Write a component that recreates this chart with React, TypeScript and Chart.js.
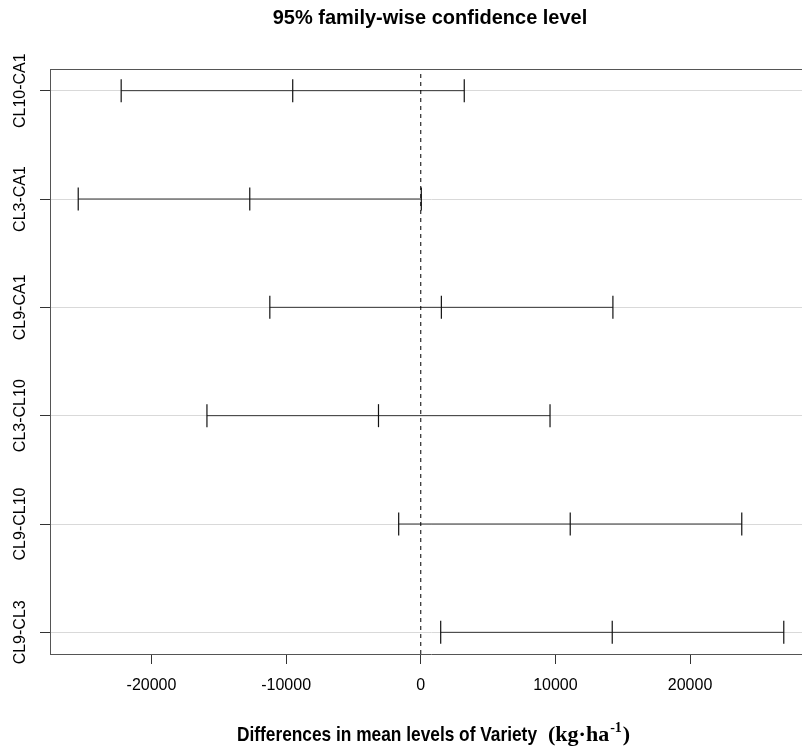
import React, { useEffect, useRef } from "react";
import { Chart, registerables } from "chart.js";

Chart.register(...registerables);

// Tukey HSD comparisons, top to bottom
const comparisons = ["CL10-CA1", "CL3-CA1", "CL9-CA1", "CL3-CL10", "CL9-CL10", "CL9-CL3"];
const diffs = [-9510, -12700, 1530, -3140, 11100, 14220];
const lowers = [-22250, -25440, -11210, -15880, -1640, 1480];
const uppers = [3230, 40, 14270, 9600, 23840, 26960];
const xTicks = [-20000, -10000, 0, 10000, 20000];

const titleText = "95% family-wise confidence level";
const xLabelText = "Differences in mean levels of Variety";

const SANS = '"Liberation Sans", Arial, sans-serif';
const SERIF = '"Liberation Serif", "Times New Roman", serif';

// row positions: first comparison at the top
const rowOf = (i: number) => comparisons.length - i;

const textPlugin = {
  id: "hsdText",
  afterDraw(chart: any) {
    const { ctx, chartArea, scales } = chart;
    const y = scales.y;
    ctx.save();
    ctx.fillStyle = "#000";

    // top frame line (plot box)
    ctx.strokeStyle = "#555";
    ctx.lineWidth = 1;
    ctx.beginPath();
    ctx.moveTo(chartArea.left, Math.round(chartArea.top) + 0.5);
    ctx.lineTo(chartArea.right, Math.round(chartArea.top) + 0.5);
    ctx.stroke();

    // main title
    ctx.font = `bold 20px ${SANS}`;
    ctx.textAlign = "center";
    ctx.textBaseline = "middle";
    ctx.fillText(titleText, 430, 18);

    // rotated comparison labels
    ctx.font = `16px ${SANS}`;
    comparisons.forEach((label, i) => {
      const py = y.getPixelForValue(rowOf(i));
      ctx.save();
      ctx.translate(21, py);
      ctx.rotate(-Math.PI / 2);
      ctx.textAlign = "center";
      ctx.textBaseline = "middle";
      ctx.fillText(label, 0, 0);
      ctx.restore();
    });

    // x-axis label: condensed bold sans part, then serif unit
    const baseY = 741;
    ctx.textAlign = "left";
    ctx.textBaseline = "alphabetic";
    ctx.font = `bold 21px ${SANS}`;
    const w = ctx.measureText(xLabelText).width;
    ctx.save();
    ctx.translate(237, baseY);
    ctx.scale(300 / w, 1);
    ctx.fillText(xLabelText, 0, 0);
    ctx.restore();

    let x = 548;
    ctx.font = `bold 22px ${SERIF}`;
    const part1 = "(kg\u00B7ha";
    ctx.fillText(part1, x, baseY);
    x += ctx.measureText(part1).width + 1;
    ctx.font = `bold 14px ${SERIF}`;
    const sup = "-1";
    ctx.fillText(sup, x, baseY - 9);
    x += ctx.measureText(sup).width + 1;
    ctx.font = `bold 22px ${SERIF}`;
    ctx.fillText(")", x, baseY);

    ctx.restore();
  },
};

export default function App() {
  const canvasRef = useRef<HTMLCanvasElement | null>(null);

  useEffect(() => {
    document.body.style.margin = "0";
    const canvas = canvasRef.current;
    if (!canvas) return;

    const barDatasets = comparisons.map((label, i) => ({
      label,
      data: [
        { x: lowers[i], y: rowOf(i) },
        { x: diffs[i], y: rowOf(i) },
        { x: uppers[i], y: rowOf(i) },
      ],
      showLine: true,
      borderColor: "#333",
      borderWidth: 1,
      pointStyle: "line" as const,
      rotation: 90,
      pointRadius: 11.5,
      pointHoverRadius: 11.5,
      pointBorderColor: "#111",
      pointBorderWidth: 1.2,
      clip: false as const,
    }));

    const zeroLine = {
      label: "zero",
      data: [
        { x: 0, y: 0.8 },
        { x: 0, y: 6.2 },
      ],
      showLine: true,
      borderColor: "#000",
      borderWidth: 1,
      borderDash: [4, 4],
      pointRadius: 0,
      pointHoverRadius: 0,
    };

    const chart = new Chart(canvas, {
      type: "scatter",
      data: { datasets: [zeroLine, ...barDatasets] as any },
      options: {
        animation: false,
        responsive: false,
        events: [],
        layout: { autoPadding: false, padding: { top: 69, left: 0, right: 0, bottom: 0 } },
        plugins: {
          legend: { display: false },
          tooltip: { enabled: false },
          title: { display: false },
        },
        scales: {
          x: {
            type: "linear",
            min: -27536,
            max: 29056,
            afterBuildTicks: (scale: any) => {
              scale.ticks = xTicks.map((v) => ({ value: v }));
            },
            afterFit: (scale: any) => {
              scale.height = 94;
            },
            grid: {
              drawOnChartArea: false,
              drawTicks: true,
              tickLength: 10,
              tickColor: "#333",
            },
            border: { color: "#555", width: 1 },
            ticks: {
              color: "#000",
              font: { family: SANS, size: 16 },
              padding: 12,
              maxRotation: 0,
              minRotation: 0,
              callback: (v: any) => String(v),
            },
          },
          y: {
            type: "linear",
            min: 0.8,
            max: 6.2,
            afterBuildTicks: (scale: any) => {
              scale.ticks = comparisons.map((_, i) => ({ value: rowOf(i) }));
            },
            afterFit: (scale: any) => {
              scale.width = 50;
            },
            grid: {
              color: "#d9d9d9",
              lineWidth: 1,
              drawTicks: true,
              tickLength: 10,
              tickColor: "#333",
            },
            border: { color: "#555", width: 1 },
            ticks: { display: false },
          },
        },
      },
      plugins: [textPlugin],
    });

    return () => chart.destroy();
  }, []);

  return (
    <div style={{ width: 802, height: 748, overflow: "hidden", position: "relative", background: "#fff" }}>
      <canvas ref={canvasRef} width={812} height={748} style={{ display: "block" }} />
    </div>
  );
}
